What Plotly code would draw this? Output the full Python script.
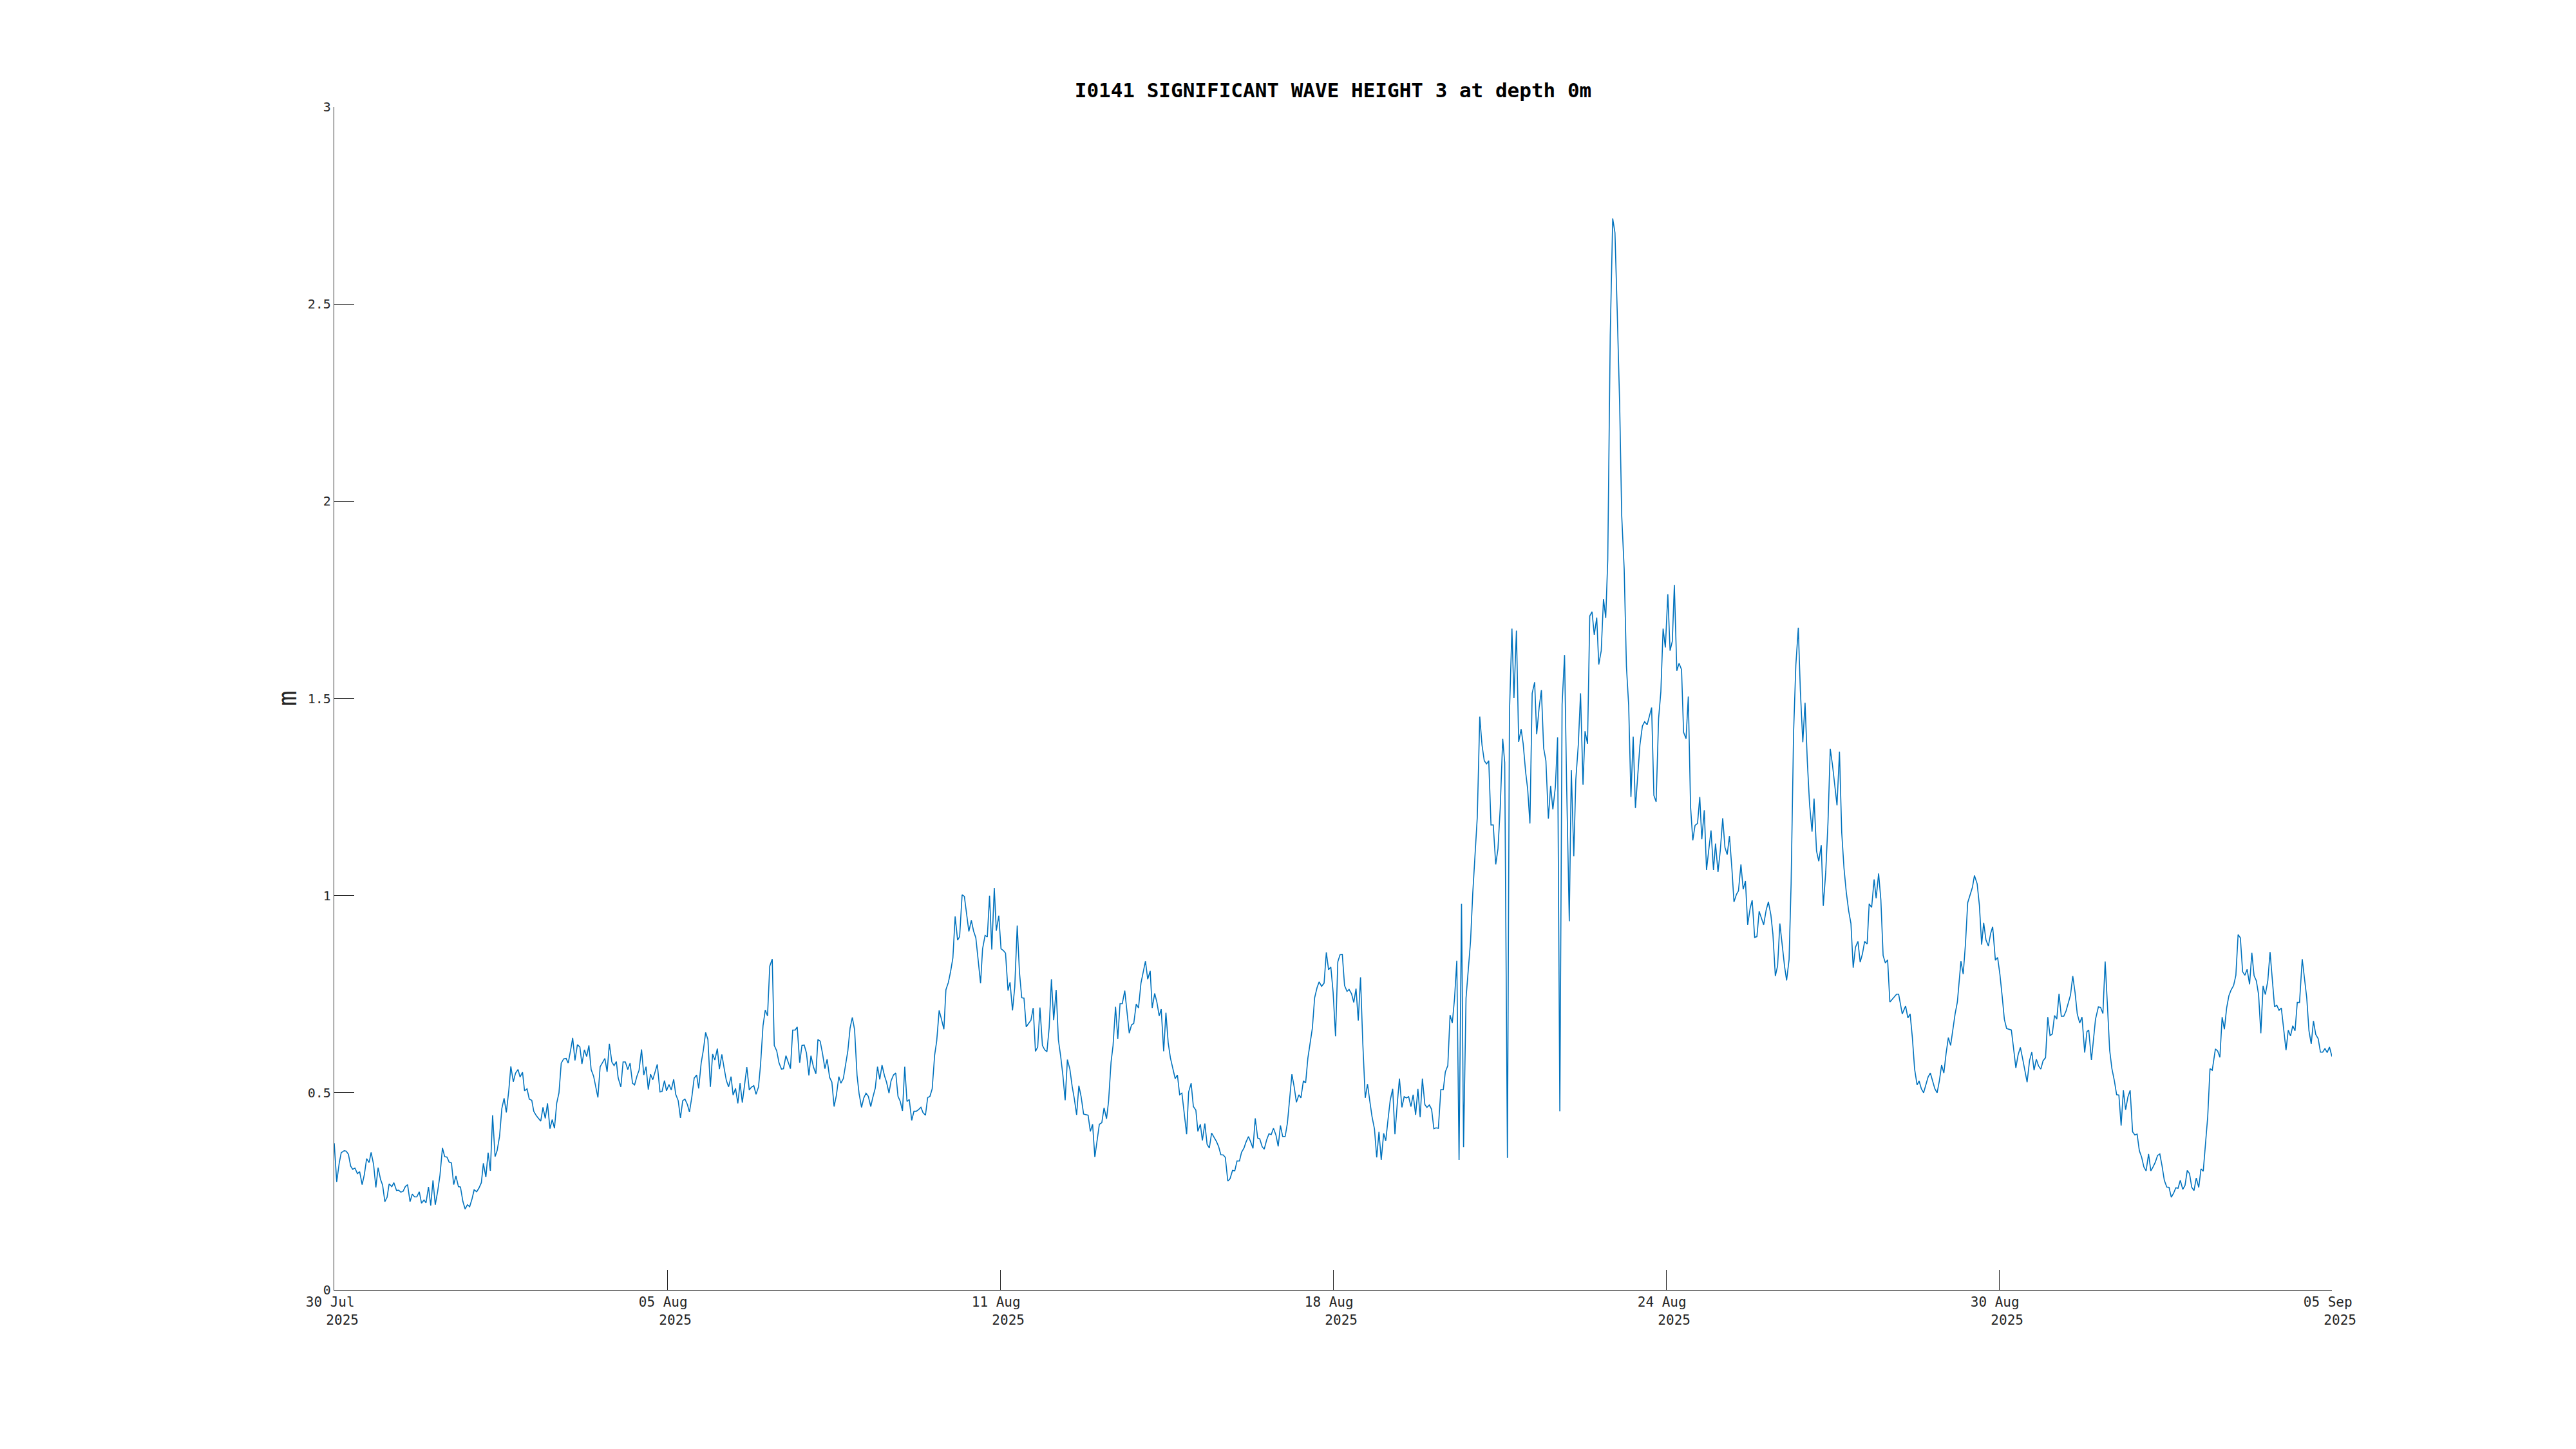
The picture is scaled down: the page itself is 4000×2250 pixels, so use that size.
import pandas as pd
import plotly.graph_objects as go

# ---- data: (hours since 2025-07-30 00:00, significant wave height in m) ----
seg_jul30_aug04 = [
    (0, 0.372), (1.1, 0.274), (2.2, 0.321), (3.1, 0.348), (4.4, 0.353), (5.3, 0.352), (6.3, 0.344), (7.3, 0.314),
    (8.2, 0.306), (9.2, 0.309), (10.3, 0.295), (11.3, 0.300), (12.4, 0.267), (13.4, 0.293), (14.4, 0.333),
    (15.5, 0.323), (16.4, 0.349), (17.5, 0.318), (18.5, 0.260), (19.5, 0.310), (20.6, 0.280), (21.5, 0.266),
    (22.5, 0.224), (23.5, 0.235), (24.4, 0.269), (25.6, 0.262), (26.5, 0.272), (27.7, 0.252), (28.6, 0.253),
    (29.6, 0.248), (30.6, 0.250), (31.6, 0.262), (32.6, 0.267), (33.7, 0.224), (34.7, 0.243), (35.7, 0.236),
    (36.7, 0.236), (37.8, 0.249), (38.8, 0.220), (39.9, 0.228), (40.8, 0.221), (41.9, 0.261), (42.9, 0.214),
    (43.9, 0.278), (44.9, 0.216), (46.0, 0.251), (47.0, 0.291), (48.1, 0.360), (49.1, 0.338), (50.1, 0.337),
    (51.1, 0.324), (52.1, 0.322), (53.1, 0.267), (54.1, 0.289), (55.2, 0.262), (56.1, 0.261), (57.2, 0.224),
    (58.2, 0.205), (59.2, 0.216), (60.2, 0.211), (61.3, 0.232), (62.2, 0.254), (63.3, 0.249), (64.3, 0.258),
    (65.4, 0.272), (66.3, 0.321), (67.4, 0.286), (68.4, 0.348), (69.4, 0.302), (70.4, 0.443), (71.5, 0.338),
    (72.4, 0.353), (73.5, 0.390), (74.5, 0.460), (75.5, 0.486), (76.5, 0.450), (77.6, 0.506), (78.5, 0.567),
    (79.6, 0.528), (80.6, 0.550), (81.7, 0.559), (82.6, 0.540), (83.7, 0.552), (84.6, 0.505), (85.7, 0.510),
    (86.7, 0.484), (87.8, 0.481), (88.7, 0.453), (89.8, 0.442), (90.7, 0.435), (91.8, 0.428), (92.8, 0.463),
    (93.8, 0.435), (94.8, 0.473), (95.9, 0.409), (96.9, 0.432), (97.9, 0.410), (98.9, 0.474), (99.9, 0.500),
    (100.9, 0.575), (102.0, 0.586), (103.1, 0.587), (104.0, 0.575), (105.1, 0.609), (106.0, 0.639),
    (107.0, 0.582), (108.1, 0.622), (109.2, 0.616), (110.1, 0.573), (111.2, 0.609), (112.2, 0.592),
    (113.2, 0.620), (114.2, 0.559), (115.3, 0.542), (116.2, 0.519), (117.2, 0.488), (118.2, 0.566),
    (119.3, 0.578), (120.3, 0.587), (121.3, 0.553), (122.3, 0.624), (123.4, 0.578), (124.4, 0.569),
    (125.4, 0.579), (126.2, 0.538),
]

seg_aug04_aug10 = [
    (127.4, 0.515), (128.4, 0.578), (129.4, 0.578), (130.5, 0.559), (131.5, 0.575), (132.6, 0.524),
    (133.5, 0.520), (134.6, 0.543), (135.5, 0.557), (136.6, 0.610), (137.6, 0.545), (138.6, 0.566),
    (139.6, 0.508), (140.6, 0.547), (141.6, 0.533), (143.6, 0.572), (144.8, 0.502), (145.7, 0.503),
    (146.8, 0.531), (147.7, 0.505), (148.8, 0.521), (149.8, 0.507), (150.9, 0.534), (151.8, 0.496),
    (152.9, 0.480), (153.9, 0.436), (154.9, 0.480), (155.9, 0.484), (157.0, 0.470), (157.9, 0.451),
    (159.0, 0.491), (160.0, 0.537), (161.1, 0.545), (162.0, 0.511), (163.1, 0.575), (164.1, 0.609),
    (165.1, 0.653), (166.1, 0.635), (167.2, 0.515), (168.2, 0.598), (169.2, 0.583), (170.3, 0.612),
    (171.2, 0.560), (172.3, 0.597), (173.3, 0.563), (174.3, 0.531), (175.3, 0.515), (176.4, 0.541),
    (177.3, 0.494), (178.4, 0.511), (179.4, 0.473), (180.4, 0.524), (181.4, 0.475), (182.5, 0.522),
    (183.4, 0.565), (184.5, 0.507), (185.4, 0.514), (186.5, 0.518), (187.5, 0.496), (188.6, 0.515),
    (189.5, 0.571), (190.6, 0.670), (191.6, 0.710), (192.6, 0.695), (193.6, 0.821), (194.7, 0.839),
    (195.6, 0.620), (196.7, 0.606), (197.7, 0.576), (198.8, 0.560), (199.7, 0.561), (200.8, 0.594),
    (201.8, 0.578), (202.8, 0.561), (203.8, 0.659), (204.9, 0.659), (205.8, 0.667), (206.9, 0.576),
    (207.9, 0.620), (208.9, 0.621), (209.9, 0.601), (211.0, 0.544), (211.9, 0.594), (213.0, 0.566),
    (214.1, 0.548), (215.0, 0.635), (216.0, 0.631), (217.1, 0.598), (218.1, 0.561), (219.1, 0.585),
    (220.2, 0.539), (221.2, 0.527), (222.2, 0.465), (223.2, 0.493), (224.3, 0.541), (225.2, 0.524),
    (226.3, 0.536), (227.3, 0.574), (228.3, 0.606), (229.3, 0.664), (230.3, 0.691), (231.3, 0.660),
    (232.4, 0.544), (233.3, 0.498), (234.4, 0.463), (235.4, 0.487), (236.4, 0.499), (237.4, 0.491),
    (238.5, 0.465), (239.4, 0.488), (240.5, 0.512), (241.5, 0.566), (242.5, 0.534), (243.5, 0.570),
    (244.6, 0.543), (245.5, 0.527), (246.6, 0.499), (247.5, 0.530), (248.6, 0.545), (249.6, 0.550),
    (250.6, 0.491), (251.6, 0.478),
]

seg_aug10_aug15 = [
    (252.6, 0.454), (253.6, 0.566), (254.6, 0.478), (255.6, 0.483), (256.7, 0.430), (257.7, 0.453),
    (258.7, 0.453), (259.7, 0.457), (260.8, 0.463), (261.7, 0.450), (262.8, 0.443), (263.8, 0.488),
    (264.8, 0.491), (265.8, 0.510), (266.9, 0.596), (267.8, 0.631), (268.9, 0.709), (269.9, 0.687),
    (271.0, 0.661), (271.9, 0.761), (273.0, 0.780), (274.0, 0.808), (275.0, 0.842), (276.0, 0.947),
    (277.1, 0.887), (278.0, 0.896), (279.1, 1.002), (280.1, 0.998), (281.2, 0.948), (282.1, 0.909),
    (283.2, 0.937), (284.2, 0.910), (285.2, 0.893), (286.2, 0.838), (287.3, 0.778), (288.2, 0.865),
    (289.3, 0.899), (290.3, 0.895), (291.3, 1.000), (292.3, 0.863), (293.4, 1.019), (294.3, 0.911),
    (295.4, 0.949), (296.4, 0.865), (297.4, 0.861), (298.4, 0.854), (299.5, 0.759), (300.4, 0.780),
    (301.5, 0.709), (302.5, 0.768), (303.6, 0.924), (304.6, 0.805), (305.6, 0.741), (306.6, 0.740),
    (307.6, 0.667), (308.7, 0.676), (309.7, 0.684), (310.7, 0.715), (311.7, 0.605), (312.7, 0.616),
    (313.7, 0.716), (314.8, 0.620), (315.8, 0.609), (316.8, 0.604), (317.8, 0.665), (318.8, 0.788),
    (319.8, 0.684), (320.9, 0.761), (321.9, 0.634), (322.9, 0.593), (323.9, 0.544), (324.9, 0.481),
    (325.9, 0.584), (327.0, 0.560), (328.0, 0.517), (329.0, 0.484), (330.0, 0.444), (331.0, 0.518),
    (332.0, 0.490), (333.1, 0.446), (334.1, 0.444), (335.1, 0.443), (336.1, 0.402), (337.1, 0.420),
    (338.1, 0.337), (339.2, 0.386), (340.1, 0.420), (341.2, 0.424), (342.2, 0.462), (343.3, 0.434),
    (344.2, 0.478), (345.3, 0.577), (346.2, 0.620), (347.3, 0.718), (348.3, 0.637), (349.3, 0.726),
    (350.3, 0.726), (351.4, 0.759), (352.4, 0.707), (353.4, 0.651), (354.4, 0.672), (355.4, 0.676),
    (356.5, 0.725), (357.5, 0.715), (358.6, 0.778), (359.5, 0.805), (360.6, 0.834), (361.6, 0.788),
    (362.7, 0.809), (363.6, 0.715), (364.7, 0.752), (365.7, 0.729), (366.7, 0.695),
]

seg_aug15_aug20 = [
    (367.6, 0.712), (368.7, 0.605), (369.7, 0.703), (370.7, 0.627), (371.7, 0.588), (372.8, 0.560),
    (373.8, 0.536), (374.8, 0.545), (375.8, 0.495), (376.8, 0.499), (377.8, 0.446), (378.9, 0.395),
    (379.8, 0.502), (380.9, 0.524), (381.9, 0.465), (383.0, 0.456), (383.9, 0.402), (385.0, 0.420),
    (385.9, 0.379), (387.0, 0.422), (388.0, 0.369), (389.0, 0.360), (390.0, 0.398), (391.1, 0.387),
    (392.1, 0.377), (393.1, 0.364), (394.1, 0.343), (395.2, 0.342), (396.1, 0.336), (397.2, 0.276),
    (398.2, 0.282), (399.3, 0.303), (400.3, 0.302), (401.3, 0.327), (402.4, 0.327), (403.3, 0.349),
    (404.4, 0.360), (405.3, 0.375), (406.4, 0.389), (407.4, 0.375), (408.4, 0.359), (409.4, 0.435),
    (410.5, 0.385), (411.4, 0.383), (412.5, 0.363), (413.4, 0.357), (414.5, 0.381), (415.5, 0.396),
    (416.5, 0.394), (417.5, 0.410), (418.6, 0.393), (419.6, 0.364), (420.6, 0.417), (421.6, 0.389),
    (422.7, 0.389), (423.7, 0.423), (424.7, 0.487), (425.7, 0.547), (426.7, 0.515), (427.7, 0.476),
    (428.8, 0.495), (429.7, 0.487), (430.8, 0.530), (431.8, 0.525), (432.8, 0.588), (433.8, 0.627),
    (434.8, 0.664), (435.8, 0.741), (436.9, 0.767), (437.8, 0.781), (438.9, 0.770), (440.0, 0.778),
    (441.0, 0.856), (442.0, 0.812), (443.0, 0.819), (444.0, 0.756), (445.1, 0.643), (446.1, 0.832),
    (447.1, 0.850), (448.1, 0.851), (449.1, 0.772), (450.2, 0.757), (451.1, 0.762), (452.2, 0.751),
    (453.2, 0.729), (454.2, 0.764), (455.2, 0.683), (456.2, 0.793), (457.2, 0.627), (458.3, 0.487),
    (459.3, 0.522), (460.3, 0.480), (461.3, 0.440), (462.4, 0.408), (463.4, 0.336), (464.4, 0.401),
    (465.4, 0.330), (466.5, 0.397), (467.4, 0.378), (468.5, 0.436), (469.4, 0.481), (470.5, 0.510),
    (471.5, 0.395), (472.6, 0.477), (473.5, 0.536), (474.6, 0.463), (475.6, 0.490), (476.6, 0.487),
    (477.6, 0.490), (478.6, 0.465), (479.6, 0.495), (480.7, 0.444), (481.7, 0.510), (482.7, 0.438),
    (483.7, 0.536), (484.8, 0.470), (485.7, 0.463), (486.8, 0.469), (487.8, 0.458), (488.8, 0.409),
    (489.8, 0.411), (490.8, 0.410),
]

seg_aug20_aug25 = [
    (491.9, 0.508), (493.0, 0.508), (493.9, 0.553), (495.0, 0.569), (496.0, 0.697), (497.0, 0.677),
    (498.0, 0.740), (499.0, 0.835), (500.0, 0.330), (501.1, 0.979), (502.0, 0.362), (503.1, 0.740),
    (504.1, 0.805), (505.1, 0.884), (506.1, 1.007), (507.2, 1.103), (508.1, 1.199), (509.2, 1.454),
    (510.2, 1.382), (511.2, 1.342), (512.2, 1.334), (513.2, 1.342), (514.2, 1.179), (515.2, 1.179),
    (516.3, 1.079), (517.3, 1.119), (518.3, 1.222), (519.4, 1.398), (520.3, 1.337), (521.5, 0.335),
    (522.4, 1.462), (523.5, 1.677), (524.4, 1.501), (525.5, 1.672), (526.5, 1.390), (527.6, 1.422),
    (528.5, 1.385), (529.6, 1.313), (530.5, 1.270), (531.5, 1.183), (532.5, 1.513), (533.6, 1.541),
    (534.5, 1.409), (535.6, 1.477), (536.6, 1.521), (537.6, 1.374), (538.6, 1.342), (539.7, 1.195),
    (540.7, 1.278), (541.7, 1.219), (542.8, 1.275), (543.8, 1.401), (544.8, 0.453), (545.8, 1.485),
    (546.9, 1.610), (547.8, 1.286), (549.0, 0.935), (549.9, 1.318), (551.0, 1.100), (551.9, 1.294),
    (553.0, 1.382), (554.0, 1.513), (555.1, 1.281), (556.0, 1.417), (557.1, 1.385), (558.1, 1.709),
    (559.1, 1.720), (560.1, 1.661), (561.2, 1.705), (562.1, 1.586), (563.2, 1.621), (564.2, 1.752),
    (565.2, 1.704), (566.1, 1.852), (567.2, 2.421), (568.3, 2.717), (569.3, 2.681), (570.3, 2.482),
    (571.4, 2.243), (572.3, 1.964), (573.4, 1.828), (574.4, 1.581), (575.4, 1.482), (576.4, 1.250),
    (577.4, 1.403), (578.4, 1.222), (579.5, 1.310), (580.4, 1.382), (581.5, 1.430), (582.5, 1.441),
    (583.6, 1.433), (584.5, 1.454), (585.6, 1.477), (586.6, 1.254), (587.6, 1.238), (588.7, 1.449),
    (589.7, 1.517), (590.7, 1.677), (591.7, 1.629), (592.8, 1.764), (593.8, 1.621), (594.8, 1.645),
    (595.7, 1.788), (596.8, 1.570), (597.8, 1.589), (598.9, 1.573), (599.8, 1.414), (600.9, 1.398),
    (601.9, 1.505), (602.9, 1.226), (603.9, 1.140), (604.9, 1.178), (606.0, 1.183), (607.0, 1.250),
]

seg_aug25_aug30 = [
    (607.9, 1.143), (609.0, 1.216), (610.0, 1.065), (611.0, 1.116), (612.0, 1.165), (613.1, 1.065),
    (614.0, 1.132), (615.1, 1.060), (616.1, 1.113), (617.2, 1.196), (618.2, 1.122), (619.2, 1.104),
    (620.2, 1.151), (621.3, 1.067), (622.2, 0.984), (623.3, 1.003), (624.2, 1.012), (625.3, 1.079),
    (626.3, 1.016), (627.3, 1.037), (628.3, 0.926), (629.4, 0.968), (630.3, 0.988), (631.4, 0.894),
    (632.4, 0.896), (633.4, 0.960), (634.5, 0.941), (635.4, 0.926), (636.5, 0.963), (637.5, 0.984),
    (638.6, 0.951), (639.5, 0.903), (640.6, 0.796), (641.6, 0.822), (642.6, 0.929), (643.6, 0.873),
    (644.7, 0.820), (645.6, 0.785), (646.7, 0.838), (647.6, 1.030), (648.7, 1.413), (649.7, 1.584),
    (650.8, 1.679), (651.7, 1.521), (652.8, 1.389), (653.8, 1.489), (654.8, 1.341), (655.8, 1.232),
    (656.9, 1.162), (657.8, 1.246), (658.9, 1.113), (659.9, 1.087), (661.0, 1.128), (661.9, 0.974),
    (663.0, 1.060), (664.0, 1.186), (665.0, 1.372), (666.0, 1.331), (667.1, 1.278), (668.0, 1.229),
    (669.1, 1.365), (670.1, 1.160), (671.1, 1.070), (672.1, 1.010), (673.2, 0.961), (674.2, 0.929),
    (675.2, 0.817), (676.2, 0.869), (677.3, 0.884), (678.3, 0.831), (679.3, 0.852), (680.3, 0.884),
    (681.4, 0.877), (682.3, 0.979), (683.4, 0.970), (684.5, 1.041), (685.4, 0.993), (686.5, 1.056),
    (687.5, 0.989), (688.5, 0.848), (689.5, 0.829), (690.5, 0.837), (691.5, 0.730), (692.9, 0.739),
    (694.5, 0.750), (695.4, 0.750), (696.1, 0.730), (697.0, 0.700), (698.5, 0.720), (699.5, 0.690),
    (700.5, 0.700), (701.5, 0.640), (702.5, 0.560), (703.6, 0.520), (704.5, 0.530), (705.5, 0.510),
    (706.5, 0.500), (707.5, 0.520), (708.5, 0.540), (709.5, 0.550), (710.5, 0.530), (711.5, 0.510),
    (712.5, 0.500), (713.5, 0.530), (714.5, 0.570), (715.5, 0.550), (716.5, 0.600), (717.5, 0.640),
    (718.5, 0.620), (719.5, 0.660), (720.5, 0.700), (721.5, 0.730), (723.1, 0.834), (724.1, 0.801),
    (725.1, 0.877), (726.1, 0.982), (727.1, 1.000), (728.2, 1.021), (729.1, 1.051),
]

seg_aug30_sep05 = [
    (730.3, 1.030), (731.3, 0.975), (732.3, 0.876), (733.2, 0.931), (734.2, 0.888), (735.3, 0.872),
    (736.3, 0.904), (737.2, 0.921), (738.4, 0.836), (739.4, 0.843), (740.4, 0.801), (741.4, 0.746),
    (742.4, 0.686), (743.4, 0.663), (744.4, 0.661), (745.5, 0.659), (746.5, 0.612), (747.5, 0.563),
    (748.5, 0.596), (749.5, 0.615), (750.5, 0.587), (751.5, 0.556), (752.5, 0.527), (753.6, 0.582),
    (754.6, 0.603), (755.6, 0.557), (756.6, 0.585), (757.6, 0.568), (758.6, 0.560), (759.6, 0.581),
    (760.7, 0.589), (761.7, 0.692), (762.7, 0.645), (763.7, 0.649), (764.7, 0.696), (765.7, 0.687),
    (766.7, 0.751), (767.7, 0.694), (768.8, 0.694), (769.8, 0.707), (770.8, 0.729), (771.8, 0.748),
    (772.8, 0.796), (773.8, 0.755), (774.8, 0.700), (775.9, 0.677), (776.9, 0.692), (778.1, 0.602),
    (779.1, 0.655), (779.9, 0.659), (781.1, 0.583), (782.1, 0.637), (782.9, 0.686), (784.2, 0.718),
    (785.2, 0.716), (786.2, 0.701), (787.2, 0.833), (788.2, 0.723), (789.2, 0.608), (790.2, 0.561),
    (791.3, 0.530), (792.3, 0.495), (793.3, 0.494), (794.3, 0.417), (795.3, 0.506), (796.3, 0.457),
    (797.3, 0.489), (798.3, 0.506), (799.4, 0.401), (800.4, 0.393), (801.4, 0.395), (802.4, 0.353),
    (803.4, 0.337), (804.4, 0.312), (805.4, 0.302), (806.5, 0.345), (807.5, 0.302), (808.5, 0.312),
    (809.5, 0.324), (810.5, 0.341), (811.5, 0.345), (812.5, 0.314), (813.5, 0.278), (814.6, 0.261),
    (815.6, 0.260), (816.6, 0.235), (817.6, 0.245), (818.6, 0.259), (819.6, 0.258), (820.6, 0.278),
    (821.7, 0.255), (822.7, 0.265), (823.7, 0.303), (824.7, 0.295), (825.7, 0.260), (826.7, 0.252),
    (827.7, 0.284), (828.8, 0.260), (829.8, 0.307), (830.8, 0.301), (831.8, 0.365), (832.8, 0.440),
    (833.8, 0.561), (834.8, 0.557), (836.2, 0.611), (837.2, 0.606), (838.2, 0.590), (839.2, 0.692),
    (840.2, 0.661), (841.2, 0.715), (842.2, 0.746), (843.2, 0.761), (844.3, 0.772), (845.3, 0.798),
    (846.3, 0.901), (847.3, 0.893), (848.3, 0.807), (849.3, 0.798), (850.3, 0.813), (851.4, 0.775),
    (852.4, 0.855), (853.4, 0.797), (854.4, 0.784), (855.4, 0.749), (856.4, 0.651), (857.4, 0.771),
    (858.4, 0.749), (859.5, 0.784), (860.5, 0.857), (861.5, 0.787), (862.5, 0.718), (863.5, 0.722),
    (864.5, 0.709), (865.5, 0.715), (866.6, 0.660), (867.6, 0.608), (868.6, 0.659), (869.6, 0.644),
    (870.6, 0.670), (871.6, 0.657), (872.6, 0.729), (873.6, 0.729), (874.8, 0.839), (875.8, 0.793),
    (876.8, 0.741), (877.8, 0.657), (878.8, 0.624), (879.8, 0.682), (880.8, 0.648), (881.9, 0.637),
    (882.9, 0.603), (883.9, 0.603), (884.9, 0.612), (885.9, 0.602), (886.9, 0.616), (888.0, 0.592),
]

start_time = "2025-07-30 00:00"
end_time = "2025-09-05 00:00"
x_tick_text = ["30 Jul", "05 Aug", "11 Aug", "18 Aug", "24 Aug", "30 Aug", "05 Sep"]
x_tick_year = "2025"
y_tick_vals = [0, 0.5, 1, 1.5, 2, 2.5, 3]
y_tick_text = ["0", "0.5", "1", "1.5", "2", "2.5", "3"]
title_text = "I0141 SIGNIFICANT WAVE HEIGHT 3 at depth 0m"
y_label = "m"

# ---- build series ----
all_pts = (seg_jul30_aug04 + seg_aug04_aug10 + seg_aug10_aug15 + seg_aug15_aug20
           + seg_aug20_aug25 + seg_aug25_aug30 + seg_aug30_sep05)
t0 = pd.Timestamp(start_time)
t1 = pd.Timestamp(end_time)
times = [t0 + pd.to_timedelta(h, unit="h") for h, _ in all_pts]
values = [v for _, v in all_pts]

n_ticks = len(x_tick_text)
tick_vals = [t0 + (t1 - t0) * i / (n_ticks - 1) for i in range(n_ticks)]
NB = "\u00a0"
tick_labels = [f"{lbl}{NB}<br>{NB}{NB}{x_tick_year}" for lbl in x_tick_text]

AX = "#262626"
MONO = "DejaVu Sans Mono"

# the page body adds an 8px offset; compensate in the margins
OFF = 8

fig = go.Figure()
fig.add_trace(go.Scatter(
    x=times, y=values, mode="lines",
    line=dict(color="#0072BD", width=1.6),
    hoverinfo="skip", showlegend=False,
))

fig.update_layout(
    width=4000, height=2250,
    paper_bgcolor="white", plot_bgcolor="white",
    margin=dict(l=519 - OFF, r=379 + OFF, t=166 - OFF, b=247 + OFF, pad=0),
    title=dict(text=title_text, x=0.5, xref="paper", xanchor="center",
               y=1 - (140 - OFF) / 2250, yref="container", yanchor="middle",
               font=dict(family=MONO, size=31, color="black", weight="bold")),
    font=dict(family=MONO, color=AX),
)

fig.update_xaxes(
    type="date", range=[t0, t1],
    tickmode="array", tickvals=tick_vals, ticktext=tick_labels,
    ticks="inside", ticklen=31, tickwidth=1.3, tickcolor=AX,
    showline=True, linecolor=AX, linewidth=1.3, mirror=False,
    showgrid=False, zeroline=False,
    tickfont=dict(family=MONO, size=21, color=AX),
    tickangle=0,
)
fig.update_yaxes(
    range=[0, 3],
    tickmode="array", tickvals=y_tick_vals, ticktext=y_tick_text,
    ticks="inside", ticklen=31, tickwidth=1.3, tickcolor=AX,
    showline=True, linecolor=AX, linewidth=1.3, mirror=False,
    showgrid=False, zeroline=False,
    tickfont=dict(family=MONO, size=20, color=AX),
    title=dict(text=y_label, font=dict(family=MONO, size=40, color=AX), standoff=4),
)

fig.write_html("out.html")
